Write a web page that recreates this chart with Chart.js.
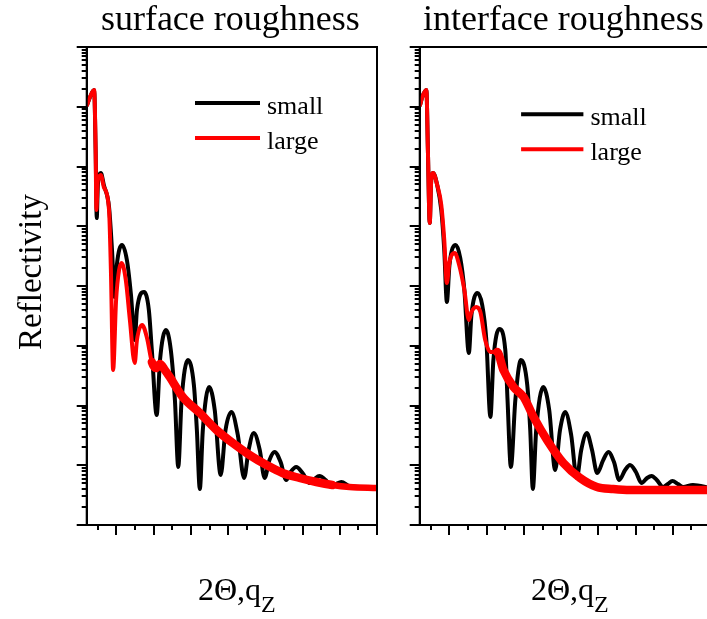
<!DOCTYPE html>
<html><head><meta charset="utf-8">
<script src="https://cdn.jsdelivr.net/npm/chart.js@4.4.0/dist/chart.umd.min.js"></script>
<style>
html,body{margin:0;padding:0;background:#fff;overflow:hidden;width:707px;height:619px;position:relative;}
#wrapL{position:absolute;left:0;top:0;width:395px;height:619px;}
#wrapR{position:absolute;left:333px;top:0;width:395px;height:619px;}
canvas{display:block;}
</style></head><body>
<div id="wrapL"><canvas id="cL" width="395" height="619"></canvas></div>
<div id="wrapR"><canvas id="cR" width="395" height="619"></canvas></div>
<script>
// ---------- data ----------
const seriesLabels = ['small', 'large'];
const panelTitles = ['surface roughness', 'interface roughness'];
const yAxisTitle = 'Reflectivity';
const xAxisTitle = '2\u0398,q';
const xAxisSub = 'Z';

// surface roughness panel
const surfSmallX = [0.21,0.29,0.40,0.44,0.47,0.50,0.58,0.66,0.80,0.88,0.95,1.01,1.15,1.28,1.39,1.49,1.55,1.74,1.87,1.95,2.08,2.17,2.33,2.46,2.57,2.66,2.75,2.92,3.08,3.16,3.24,3.32,3.49,3.64,3.80,3.93,4.09,4.26,4.43,4.55,4.69,4.85,4.98,5.11,5.25,5.41,5.56,5.68,5.83,6.00,6.19,6.32,6.45,6.62,6.77,6.91,7.04,7.26,7.53,8.0];
const surfSmallY = [1.07e-1,1.46e-1,1.9e-1,1.89e-2,1.37e-3,4.9e-3,7.78e-3,4.9e-3,2.1e-3,4.0e-4,6.54e-5,2.25e-4,4.86e-4,2.72e-4,7.07e-5,1.25e-5,3.97e-5,7.94e-5,3.97e-5,8.49e-6,6.93e-7,5.78e-6,1.83e-5,8.49e-6,1.24e-6,9.35e-8,1.24e-6,5.78e-6,2.2e-6,3.89e-7,4.0e-8,3.89e-7,2.04e-6,8.41e-7,6.87e-8,3.89e-7,7.78e-7,3.21e-7,6.12e-8,1.8e-7,3.46e-7,1.8e-7,6.12e-8,1.22e-7,1.67e-7,1.13e-7,5.66e-8,7.71e-8,9.35e-8,7.42e-8,5.05e-8,5.89e-8,6.61e-8,5.66e-8,4.33e-8,4.86e-8,5.24e-8,4.49e-8,4.33e-8,4.16e-8];
const surfLargeX = [0.21,0.29,0.40,0.44,0.46,0.50,0.58,0.66,0.80,0.85,0.91,0.99,1.07,1.14,1.25,1.36,1.49,1.55,1.69,1.82,1.95,2.06,2.17,2.30,2.43,2.78,3.24,3.69,4.12,4.58,5.03,5.46,5.92,6.37,6.80,7.26,8.0];
const surfLargeY = [1.07e-1,1.46e-1,1.9e-1,1.89e-2,1.87e-3,5.94e-3,7.21e-3,4.54e-3,1.87e-3,1.85e-4,3.93e-6,5.83e-5,1.85e-4,2.43e-4,1.26e-4,2.7e-5,5.14e-6,1.25e-5,2.23e-5,1.35e-5,5.35e-6,4.24e-6,4.95e-6,3.93e-6,3.0e-6,1.39e-6,7.49e-7,3.89e-7,2.36e-7,1.48e-7,1.01e-7,7.42e-8,6.12e-8,5.24e-8,4.67e-8,4.33e-8,4.16e-8];

// interface roughness panel
const intSmallX = [0.21,0.27,0.38,0.42,0.47,0.51,0.56,0.67,0.78,0.86,0.93,1.00,1.17,1.29,1.40,1.52,1.59,1.75,1.88,1.99,2.10,2.18,2.34,2.50,2.56,2.65,2.77,2.92,3.09,3.17,3.24,3.33,3.52,3.68,3.84,3.97,4.11,4.27,4.42,4.54,4.69,4.83,4.97,5.13,5.27,5.42,5.56,5.72,5.85,6.01,6.16,6.31,6.43,6.57,6.74,6.87,6.99,7.14,7.28,7.54,8.0];
const intSmallY = [1.07e-1,1.46e-1,1.9e-1,1.89e-2,1.13e-3,5.94e-3,7.78e-3,4.9e-3,1.87e-3,4.0e-4,5.4e-5,2.25e-4,4.86e-4,2.94e-4,8.57e-5,7.56e-6,3.27e-5,7.63e-5,4.81e-5,1.25e-5,6.42e-7,5.78e-6,1.91e-5,8.49e-6,1.24e-6,9.35e-8,1.24e-6,5.78e-6,2.2e-6,3.89e-7,4.0e-8,3.89e-7,2.04e-6,8.41e-7,8.33e-8,3.89e-7,7.78e-7,3.21e-7,6.12e-8,1.8e-7,3.46e-7,1.8e-7,7.42e-8,1.22e-7,1.67e-7,1.13e-7,5.66e-8,8.33e-8,1.01e-7,7.71e-8,5.05e-8,6.12e-8,6.61e-8,5.66e-8,4.33e-8,4.86e-8,5.45e-8,4.86e-8,4.33e-8,4.67e-8,4.16e-8];
const intLargeX = [0.21,0.27,0.38,0.42,0.47,0.51,0.56,0.67,0.78,0.86,0.93,1.00,1.14,1.26,1.40,1.52,1.59,1.72,1.83,1.96,2.10,2.28,2.45,2.72,2.99,3.26,3.62,4.06,4.51,4.96,5.40,5.85,8.0];
const intLargeY = [1.07e-1,1.46e-1,1.9e-1,1.89e-2,1.13e-3,5.94e-3,7.78e-3,4.9e-3,2.27e-3,5.89e-4,1.12e-4,2.52e-4,3.57e-4,2.25e-4,8.57e-5,2.7e-5,3.67e-5,4.45e-5,3.67e-5,1.25e-5,7.86e-6,7.86e-6,3.93e-6,2.04e-6,1.39e-6,6.42e-7,2.65e-7,1.09e-7,6.12e-8,4.33e-8,4.0e-8,3.85e-8,3.85e-8];

// axis ranges and tick positions (no tick labels are shown)
const xMin = 0.2, xMax = 8.0;
const yMin = 1e-8, yMax = 1;
const xMajorTicks = [1,2,3,4,5,6,7,8];
const xMinorTicks = [0.5,1.5,2.5,3.5,4.5,5.5,6.5,7.5];
const yDecades = [-8,-7,-6,-5,-4,-3,-2,-1,0];
const yMinorMantissas = [2,3,4,5,6,7,8,9];

// ---------- drawing ----------
const FONT = '"Liberation Serif","Times New Roman",serif';
const toPts = (xs, ys) => xs.map((x, i) => ({x: x, y: ys[i]}));

const decor = {
  id: 'decor',
  afterDraw(chart, args, o) {
    const ctx = chart.ctx, a = chart.chartArea;
    const xs = chart.scales.x, ys = chart.scales.y;
    ctx.save();
    ctx.strokeStyle = '#000';
    ctx.lineWidth = 2;
    ctx.strokeRect(a.left, a.top, a.right - a.left, a.bottom - a.top);
    ctx.beginPath();
    ys.ticks.forEach(t => {
      const p = Math.round(ys.getPixelForValue(t.value));
      const len = t.major ? 10 : 5;
      ctx.moveTo(a.left, p); ctx.lineTo(a.left - len, p);
    });
    xs.ticks.forEach(t => {
      const p = Math.round(xs.getPixelForValue(t.value));
      const len = t.major ? 10 : 5;
      ctx.moveTo(p, a.bottom); ctx.lineTo(p, a.bottom + len);
    });
    ctx.stroke();

    ctx.fillStyle = '#000';
    // panel title
    ctx.font = '36px ' + FONT;
    ctx.textAlign = 'center';
    ctx.textBaseline = 'alphabetic';
    ctx.fillText(o.title, (a.left + a.right) / 2 - 1.5, 30);

    // x-axis title with subscript
    ctx.textAlign = 'left';
    ctx.font = '32px ' + FONT;
    const w1 = ctx.measureText(xAxisTitle).width;
    ctx.font = '24px ' + FONT;
    const w2 = ctx.measureText(xAxisSub).width;
    const x0 = (a.left + a.right) / 2 + 5 - (w1 + w2) / 2;
    ctx.font = '32px ' + FONT;
    ctx.fillText(xAxisTitle, x0, 600);
    ctx.font = '24px ' + FONT;
    ctx.fillText(xAxisSub, x0 + w1, 612);

    // y-axis title
    if (o.yTitle) {
      ctx.save();
      ctx.translate(41, 272);
      ctx.rotate(-Math.PI / 2);
      ctx.font = '33px ' + FONT;
      ctx.textAlign = 'center';
      ctx.fillText(yAxisTitle, 0, 0);
      ctx.restore();
    }

    // legend
    ctx.font = '26px ' + FONT;
    ctx.textAlign = 'left';
    chart.data.datasets.forEach((d, i) => {
      const y = a.top + o.legendY[i];
      ctx.strokeStyle = d.borderColor;
      ctx.lineWidth = 4;
      ctx.beginPath();
      ctx.moveTo(a.left + o.legendX0, y);
      ctx.lineTo(a.left + o.legendX1, y);
      ctx.stroke();
      ctx.fillStyle = '#000';
      ctx.fillText(d.label, a.left + o.legendX1 + 7, y + 11);
    });
    ctx.restore();
  }
};

function makeChart(id, smallX, smallY, largeX, largeY, opts) {
  const thick = ctx => {
    const x = ctx.p0.parsed.x;
    if (x < opts.thickFrom) return 4;
    return x > 6.5 ? 6.5 : 8.5;
  };
  return new Chart(document.getElementById(id), {
    type: 'line',
    data: {
      datasets: [
        {label: seriesLabels[1], data: toPts(largeX, largeY), borderColor: '#ff0000', borderWidth: 4,
         pointRadius: 0, cubicInterpolationMode: 'monotone', borderCapStyle: 'round', borderJoinStyle: 'round',
         segment: {borderWidth: thick}},
        {label: seriesLabels[0], data: toPts(smallX, smallY), borderColor: '#000000', borderWidth: 4,
         pointRadius: 0, cubicInterpolationMode: 'monotone', borderCapStyle: 'round', borderJoinStyle: 'round'}
      ]
    },
    options: {
      responsive: false,
      animation: false,
      devicePixelRatio: 1,
      layout: {padding: {top: 47, right: 18, bottom: 0, left: 0}},
      plugins: {
        legend: {display: false},
        tooltip: {enabled: false},
        decor: opts
      },
      scales: {
        x: {
          type: 'linear', min: xMin, max: xMax,
          ticks: {display: false},
          grid: {display: false},
          border: {display: true, color: '#000', width: 2},
          afterBuildTicks: s => {
            s.ticks = xMinorTicks.map(v => ({value: v, major: false}))
              .concat(xMajorTicks.map(v => ({value: v, major: true})));
          },
          afterFit: s => { s.height = 94; }
        },
        y: {
          type: 'logarithmic', min: yMin, max: yMax,
          ticks: {display: false},
          grid: {display: false},
          border: {display: true, color: '#000', width: 2},
          afterBuildTicks: s => {
            const t = [];
            yDecades.forEach(e => {
              t.push({value: Math.pow(10, e), major: true});
              if (e < 0) yMinorMantissas.forEach(m => t.push({value: m * Math.pow(10, e), major: false}));
            });
            s.ticks = t;
          },
          afterFit: s => { s.width = 86.7; }
        }
      }
    },
    plugins: [decor]
  });
}

makeChart('cL', surfSmallX, surfSmallY, surfLargeX, surfLargeY, {
  title: panelTitles[0], yTitle: true, thickFrom: 1.95,
  legendX0: 108.3, legendX1: 173.3, legendY: [91, 56]
});
makeChart('cR', intSmallX, intSmallY, intLargeX, intLargeY, {
  title: panelTitles[1], yTitle: false, thickFrom: 2.28,
  legendX0: 101.4, legendX1: 163.7, legendY: [102.3, 67.3]
});
</script>
</body></html>
